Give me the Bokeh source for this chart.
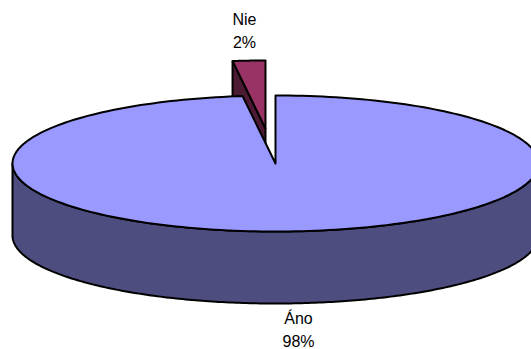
import numpy as np
from bokeh.core.properties import value
from bokeh.embed import file_html
from bokeh.models import Range1d
from bokeh.plotting import figure
from bokeh.resources import INLINE

# Survey answers and their shares of the whole, in percent
categories = ["Áno", "Nie"]
shares = [98, 2]

# Pie projection, in page pixels
CX, CY = 275.0, 163.0
RX, RY = 263.0, 68.0
DEPTH = 72.0
EXPLODE_X, EXPLODE_Y = -10.0, -35.0
EDGE = 2.0

AZURE_TOP, AZURE_SIDE = "#9999FF", "#4D4D80"
PLUM_TOP, PLUM_SIDE = "#993366", "#4D1A33"


def rim(start_deg, stop_deg, dx=0.0, dy=0.0, n=240):
    """Points along the rim; angles run clockwise from twelve o'clock."""
    t = np.radians(np.linspace(start_deg, stop_deg, n))
    return CX + dx + RX * np.sin(t), CY + dy - RY * np.cos(t)


p = figure(
    width=531, height=349, output_backend="svg", toolbar_location=None,
    x_range=Range1d(0, 531), y_range=Range1d(349, 0),
    min_border=0, outline_line_color=None,
)
p.axis.visible = False
p.grid.visible = False

sweep_main = 360 * shares[0] / sum(shares)

# Exploded small slice: its cut wall first, then its top face
wx, wy = rim(sweep_main, 360, EXPLODE_X, EXPLODE_Y)
ax, ay = CX + EXPLODE_X, CY + EXPLODE_Y
p.patch([wx[0], ax, ax, wx[0]],
        [wy[0], ay, ay + DEPTH, wy[0] + DEPTH],
        fill_color=PLUM_SIDE, line_color="black", line_width=EDGE)
p.patch(np.r_[ax, wx], np.r_[ay, wy],
        fill_color=PLUM_TOP, line_color="black", line_width=EDGE, line_join="round")

# Front wall of the large slice
sx, sy = rim(90, 270)
p.patch(np.r_[sx, sx[::-1]], np.r_[sy, sy[::-1] + DEPTH],
        fill_color=AZURE_SIDE, line_color="black", line_width=EDGE, line_join="round")

# Top face of the large slice
tx, ty = rim(0, sweep_main)
p.patch(np.r_[CX, tx], np.r_[CY, ty],
        fill_color=AZURE_TOP, line_color="black", line_width=EDGE, line_join="round")

# Two-line data labels, placed by the centre of each label's first line
labels = {"Nie": (244, 19), "Áno": (298, 317.5)}
for cat, share in zip(categories, shares):
    lx, ly = labels[cat]
    for text, yy in ((cat, ly), (f"{share}%", ly + 23)):
        p.text([lx], [yy], text=[text], text_align="center", text_baseline="middle",
               text_font=value("Liberation Sans"), text_font_size="16px", text_color="black")

open("out.html", "w").write(file_html(p, INLINE))
